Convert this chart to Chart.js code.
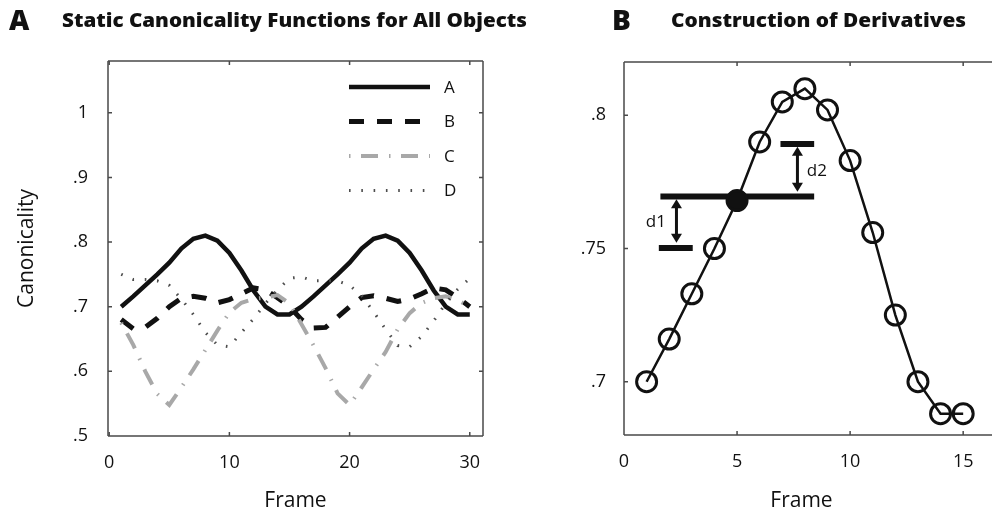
<!DOCTYPE html>
<html>
<head>
<meta charset="utf-8">
<script src="https://cdn.jsdelivr.net/npm/chart.js@4.4.1/dist/chart.umd.min.js"></script>
<style>
html,body{margin:0;padding:0;background:#fff;}
#wrap{position:relative;width:992px;height:517px;overflow:hidden;background:#fff;font-family:"Open Sans",sans-serif;color:#111;}
.t{position:absolute;font-weight:800;white-space:nowrap;line-height:1;transform-origin:0 0;}
canvas{position:absolute;top:0;}
</style>
</head>
<body>
<div id="wrap">
  <canvas id="chartA" width="500" height="517" style="left:0"></canvas>
  <canvas id="chartB" width="492" height="517" style="left:500px"></canvas>
  <div class="t" id="letA" style="left:9px;top:5px;font-size:28px;">A</div>
  <div class="t" id="titA" data-w="465" style="left:62px;top:10px;font-size:20px;">Static Canonicality Functions for All Objects</div>
  <div class="t" id="letB" style="left:612px;top:5px;font-size:28px;">B</div>
  <div class="t" id="titB" data-w="295" style="left:671px;top:10px;font-size:20px;">Construction of Derivatives</div>
</div>
<script>
// ---------------- data: panel A ----------------
const framesA = [1,2,3,4,5,6,7,8,9,10,11,12,13,14,15,16,17,18,19,20,21,22,23,24,25,26,27,28,29,30];
const seriesNames = ['A','B','C','D'];
const valuesA = [0.700,0.716,0.733,0.750,0.768,0.790,0.805,0.810,0.802,0.783,0.756,0.725,0.700,0.688,0.688,
                 0.700,0.716,0.733,0.750,0.768,0.790,0.805,0.810,0.802,0.783,0.756,0.725,0.700,0.688,0.688];
const valuesB = [0.680,0.666,0.668,0.682,0.700,0.713,0.716,0.713,0.706,0.711,0.720,0.729,0.726,0.714,0.700,
                 0.680,0.667,0.668,0.684,0.700,0.714,0.717,0.713,0.708,0.712,0.720,0.729,0.726,0.714,0.700];
const valuesC = [0.675,0.641,0.600,0.565,0.548,0.575,0.603,0.633,0.663,0.691,0.706,0.712,0.714,0.718,0.705,
                 0.673,0.640,0.605,0.566,0.548,0.575,0.603,0.630,0.665,0.690,0.706,0.713,0.716,0.710,0.700];
const valuesD = [0.750,0.742,0.742,0.740,0.733,0.712,0.688,0.660,0.641,0.638,0.660,0.681,0.705,0.726,0.744,
                 0.746,0.740,0.740,0.740,0.733,0.717,0.692,0.665,0.640,0.638,0.654,0.678,0.705,0.727,0.744];
const xTicksA = [0,10,20,30];
const xTickLabelsA = ['0','10','20','30'];
const yTicksA = [0.5,0.6,0.7,0.8,0.9,1.0];
const yTickLabelsA = ['.5','.6','.7','.8','.9','1'];

// ---------------- data: panel B ----------------
const framesB = [1,2,3,4,5,6,7,8,9,10,11,12,13,14,15];
const valuesBPanel = [0.700,0.716,0.733,0.750,0.768,0.790,0.805,0.810,0.802,0.783,0.756,0.725,0.700,0.688,0.688];
const highlightFrame = 5;
const barCenterX = [1.61, 8.41];  const barCenterY = 0.7695;
const barLowX = [1.54, 3.04];     const barLowY = 0.7502;
const barHighX = [6.92, 8.41];    const barHighY = 0.7892;
const arrowD1X = 2.32; const arrowD1Y = [0.7685, 0.7522];
const arrowD2X = 7.67; const arrowD2Y = [0.7882, 0.7713];
const labelNames = ['d1','d2'];
const labelX = [1.41, 8.53];
const labelY = [0.7598, 0.7789];
const xTicksB = [0,5,10,15];
const xTickLabelsB = ['0','5','10','15'];
const yTicksB = [0.7,0.75,0.8];
const yTickLabelsB = ['.7','.75','.8'];

// ---------------- helpers ----------------
const FONT = '"Open Sans", sans-serif';
const AXIS = '#4a4a4a';
function pts(xs, ys){ return xs.map((x,i)=>({x:x, y:ys[i]})); }
function flat(xs, y){ return xs.map(x=>({x:x, y:y})); }
function fixTicks(vals){ return function(s){ s.ticks = vals.map(v=>({value:v})); }; }
function labelFor(vals, labels){ return function(v){ const i = vals.findIndex(t=>Math.abs(t-v)<1e-9); return i>=0?labels[i]:''; }; }

function boxPlugin(opts){
  return {
    id:'box'+opts.name,
    afterDatasetsDraw(chart){
      const {ctx, chartArea:a, scales:{x, y}} = chart;
      ctx.save();
      ctx.strokeStyle = AXIS; ctx.lineWidth = 1.5; ctx.lineCap='butt';
      ctx.beginPath();
      ctx.moveTo(a.left, a.top); ctx.lineTo(opts.rightOpen ? chart.width : a.right, a.top);
      ctx.moveTo(a.left, a.bottom); ctx.lineTo(opts.rightOpen ? chart.width : a.right, a.bottom);
      ctx.moveTo(a.left, a.top); ctx.lineTo(a.left, a.bottom);
      if(!opts.rightOpen){ ctx.moveTo(a.right, a.top); ctx.lineTo(a.right, a.bottom); }
      ctx.stroke();
      const tl = 4;
      ctx.beginPath();
      opts.xt.forEach(v=>{ const px = x.getPixelForValue(v); if(px<=a.left+1) return;
        ctx.moveTo(px, a.bottom); ctx.lineTo(px, a.bottom-tl);
        ctx.moveTo(px, a.top); ctx.lineTo(px, a.top+tl); });
      opts.yt.forEach(v=>{ const py = y.getPixelForValue(v); if(py>=a.bottom-1) return;
        ctx.moveTo(a.left, py); ctx.lineTo(a.left+tl, py);
        if(!opts.rightOpen){ ctx.moveTo(a.right, py); ctx.lineTo(a.right-tl, py); } });
      ctx.stroke();
      ctx.restore();
    }
  };
}

// ---------------- chart A ----------------
const styleA = [
  {color:'#111111', width:4.5, dash:[]},
  {color:'#111111', width:5,   dash:[15,13]},
  {color:'#a8a8a8', width:4,   dash:[1.5,10.5,17,11]},
  {color:'#4d4d4d', width:3,   dash:[1.6,10.7]}
];
const seriesValues = [valuesA, valuesB, valuesC, valuesD];

const legendPlugin = {
  id:'lineLegend',
  afterDraw(chart){
    const {ctx, chartArea:a} = chart;
    ctx.save();
    chart.data.datasets.forEach((ds,i)=>{
      const y = a.top + 26 + i*34.5;
      const x1 = a.right - 134, x2 = a.right - 53;
      ctx.strokeStyle = ds.borderColor; ctx.lineWidth = ds.borderWidth;
      ctx.setLineDash(ds.borderDash || []);
      ctx.beginPath(); ctx.moveTo(x1,y); ctx.lineTo(x2,y); ctx.stroke();
      ctx.setLineDash([]);
      ctx.fillStyle = '#111'; ctx.font = '17px ' + FONT;
      ctx.textAlign='left'; ctx.textBaseline='middle';
      ctx.fillText(ds.label, a.right - 39, y + 1);
    });
    ctx.restore();
  }
};

new Chart(document.getElementById('chartA'), {
  type:'line',
  data:{
    datasets: seriesNames.map((n,i)=>({
      label:n, data: pts(framesA, seriesValues[i]),
      borderColor: styleA[i].color, borderWidth: styleA[i].width, borderDash: styleA[i].dash,
      pointRadius:0, fill:false, tension:0, order: 4-i
    }))
  },
  options:{
    responsive:false, animation:false, devicePixelRatio:1,
    layout:{padding:{top:61, right:17, left:0, bottom:0}},
    plugins:{legend:{display:false}, tooltip:{enabled:false}},
    scales:{
      x:{type:'linear', min:-0.1, max:31.1,
         afterBuildTicks: fixTicks(xTicksA),
         afterFit: s=>{ s.height = 81; },
         grid:{display:false, drawTicks:false}, border:{display:false},
         ticks:{autoSkip:false, maxRotation:0, padding:16, color:'#111', font:{family:FONT, size:18},
                callback: labelFor(xTicksA, xTickLabelsA)},
         title:{display:true, text:'Frame', color:'#111', font:{family:FONT, size:21}, padding:{top:0, bottom:3}}},
      y:{type:'linear', min:0.5, max:1.08,
         afterBuildTicks: fixTicks(yTicksA),
         afterFit: s=>{ s.width = 108; },
         grid:{display:false, drawTicks:false}, border:{display:false},
         ticks:{autoSkip:false, padding:20, color:'#111', font:{family:FONT, size:18},
                callback: labelFor(yTicksA, yTickLabelsA)},
         title:{display:true, text:'Canonicality', color:'#111', font:{family:FONT, size:21}, padding:{top:14, bottom:0}}}
    }
  },
  plugins:[boxPlugin({name:'A', xt:xTicksA, yt:yTicksA, rightOpen:false}), legendPlugin]
});

// ---------------- chart B ----------------
const arrowPlugin = {
  id:'arrows',
  afterDatasetsDraw(chart){
    const {ctx, scales:{x, y}} = chart;
    ctx.save();
    ctx.strokeStyle = '#111'; ctx.fillStyle = '#111'; ctx.lineWidth = 3;
    [[arrowD1X, arrowD1Y],[arrowD2X, arrowD2Y]].forEach(([ax, ay])=>{
      const px = x.getPixelForValue(ax);
      const p1 = y.getPixelForValue(ay[0]), p2 = y.getPixelForValue(ay[1]);
      const hl = 9, hw = 5.5;
      ctx.beginPath(); ctx.moveTo(px, p1 + hl - 1); ctx.lineTo(px, p2 - hl + 1); ctx.stroke();
      ctx.beginPath(); ctx.moveTo(px, p1); ctx.lineTo(px-hw, p1+hl); ctx.lineTo(px+hw, p1+hl); ctx.closePath(); ctx.fill();
      ctx.beginPath(); ctx.moveTo(px, p2); ctx.lineTo(px-hw, p2-hl); ctx.lineTo(px+hw, p2-hl); ctx.closePath(); ctx.fill();
    });
    ctx.font = '17px ' + FONT; ctx.textAlign='center'; ctx.textBaseline='middle';
    labelNames.forEach((t,i)=>{ ctx.fillText(t, x.getPixelForValue(labelX[i]), y.getPixelForValue(labelY[i])); });
    ctx.restore();
  }
};

const barStyle = {borderColor:'#111', borderWidth:6, pointRadius:0, fill:false, showLine:true, tension:0, borderCapStyle:'butt'};
new Chart(document.getElementById('chartB'), {
  type:'line',
  data:{
    datasets:[
      Object.assign({label:'bar', data: flat(barCenterX, barCenterY), order:5}, barStyle),
      Object.assign({label:'barLow', data: flat(barLowX, barLowY), order:5}, barStyle),
      Object.assign({label:'barHigh', data: flat(barHighX, barHighY), order:5}, barStyle),
      {label:'canonicality', data: pts(framesB, valuesBPanel), order:2,
       borderColor:'#111', borderWidth:2.5, tension:0, fill:false,
       pointRadius:10, pointBorderWidth:3, pointBorderColor:'#111',
       pointBackgroundColor: ctx => (ctx.raw && ctx.raw.x === highlightFrame) ? '#111' : 'rgba(0,0,0,0)',
       pointHoverRadius:10}
    ]
  },
  options:{
    responsive:false, animation:false, devicePixelRatio:1,
    layout:{padding:{top:62, right:1, left:0, bottom:0}},
    plugins:{legend:{display:false}, tooltip:{enabled:false}},
    scales:{
      x:{type:'linear', min:0, max:15.7,
         afterBuildTicks: fixTicks(xTicksB),
         afterFit: s=>{ s.height = 82; },
         grid:{display:false, drawTicks:false}, border:{display:false},
         ticks:{autoSkip:false, maxRotation:0, padding:16, color:'#111', font:{family:FONT, size:18},
                callback: labelFor(xTicksB, xTickLabelsB)},
         title:{display:true, text:'Frame', color:'#111', font:{family:FONT, size:21}, padding:{top:0, bottom:3}}},
      y:{type:'linear', min:0.68, max:0.82,
         afterBuildTicks: fixTicks(yTicksB),
         afterFit: s=>{ s.width = 124; },
         grid:{display:false, drawTicks:false}, border:{display:false},
         ticks:{autoSkip:false, padding:18, color:'#111', font:{family:FONT, size:18},
                callback: labelFor(yTicksB, yTickLabelsB)}}
    }
  },
  plugins:[boxPlugin({name:'B', xt:xTicksB, yt:yTicksB, rightOpen:true}), arrowPlugin]
});

// fit title widths
document.querySelectorAll('.t[data-w]').forEach(el=>{
  const w = el.getBoundingClientRect().width;
  const target = parseFloat(el.dataset.w);
  if(w>0) el.style.transform = 'scaleX(' + (target / w) + ')';
});
</script>
</body>
</html>
